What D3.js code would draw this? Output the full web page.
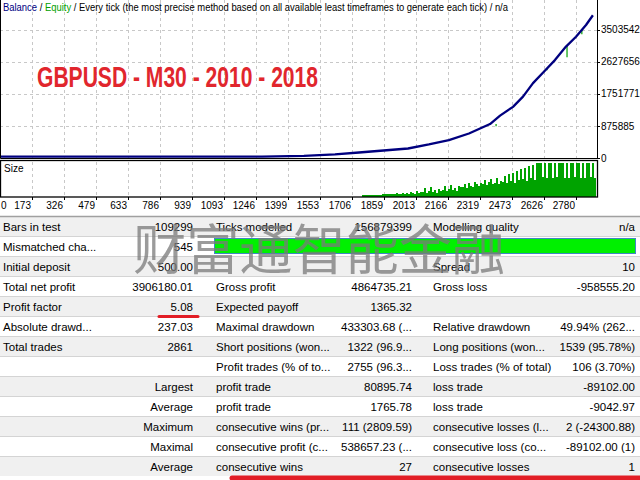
<!DOCTYPE html>
<html>
<head>
<meta charset="utf-8">
<script src="https://cdn.jsdelivr.net/npm/d3@7"></script>
<style>
  body { margin: 0; background: #fff; }
  svg { display: block; }
</style>
</head>
<body>
<div class="report"></div>
<script>
// chart data
const xTicks = [0, 173, 326, 479, 633, 786, 939, 1093, 1246, 1399, 1553, 1706, 1859, 2013, 2166, 2319, 2473, 2626, 2780];
const yTicks = [0, 875885, 1751771, 2627656, 3503542];

const balanceTrade = [0, 600, 1265, 1275, 1476, 1625, 1740, 1975, 2075, 2171, 2267, 2368, 2416, 2478, 2526, 2574, 2626, 2679, 2732, 2780, 2828, 2861];
const balanceValue = [500, 4000, 9000, 24000, 60000, 100000, 150000, 260000, 370000, 490000, 670000, 930000, 1160000, 1400000, 1680000, 2050000, 2360000, 2680000, 3050000, 3320000, 3640000, 3906680];

// equity dips (trade, balance at that trade, lowest equity)
const equityTrade = [2397, 2641, 2737, 2808];
const equityHigh = [930000, 2440000, 3070000, 3520000];
const equityLow = [870000, 2400000, 2760000, 3390000];

// lot sizes, one sample every sizeStep trades from sizeStart
const sizeStart = 1754, sizeStep = 9.58;
const sizeLots = [
  1.5, 1.5, 1.5, 1.5, 1.5, 1.5, 1.5, 1.5, 1.5, 1.5,
  3, 3, 3, 3, 3, 3, 3, 4.5, 3, 3, 4.5, 3,
  4.5, 3, 6, 4.5, 3, 7.5, 4.5, 6,
  6, 12, 4.5, 7.5, 13.5, 6, 9, 4.5, 10.5, 7.5,
  9, 15, 7.5, 10.5, 16.5, 9, 12, 7.5, 15, 13.5,
  13.5, 18, 12, 19.5, 15, 13.5, 21, 18, 15, 19.5,
  18, 24, 16.5, 21, 25.5, 18, 19.5, 27, 18, 22.5,
  21, 30, 19.5, 33, 22.5, 34.5, 19.5, 37.5, 24, 40.5,
  25.5, 42, 22.5, 45, 27, 46.5, 24, 50,
  50, 50, 28.5, 50, 27, 50, 50, 27, 50, 28.5, 50, 50, 50, 27, 50,
  27, 50, 50, 28.5, 50, 50, 27, 50, 27, 50, 50, 28.5, 50, 27
];
const sizeMax = 50;

// report table, one array per column
const col1Label = ['Bars in test', 'Mismatched cha...', 'Initial deposit', 'Total net profit', 'Profit factor', 'Absolute drawd...', 'Total trades', '', '', '', '', '', ''];
const col1Value = ['109299', '545', '500.00', '3906180.01', '5.08', '237.03', '2861', '', 'Largest', 'Average', 'Maximum', 'Maximal', 'Average'];
const col2Label = ['Ticks modelled', '', '', 'Gross profit', 'Expected payoff', 'Maximal drawdown', 'Short positions (won...', 'Profit trades (% of to...', 'profit trade', 'profit trade', 'consecutive wins (pr...', 'consecutive profit (c...', 'consecutive wins'];
const col2Value = ['156879399', '', '', '4864735.21', '1365.32', '433303.68 (...', '1322 (96.9...', '2755 (96.3...', '80895.74', '1765.78', '111 (2809.59)', '538657.23 (...', '27'];
const col3Label = ['Modelling quality', '', 'Spread', 'Gross loss', '', 'Relative drawdown', 'Long positions (won...', 'Loss trades (% of total)', 'loss trade', 'loss trade', 'consecutive losses (l...', 'consecutive loss (co...', 'consecutive losses'];
const col3Value = ['n/a', '', '10', '-958555.20', '', '49.94% (262...', '1539 (95.78%)', '106 (3.70%)', '-89102.00', '-9042.97', '2 (-24300.88)', '-89102.00 (1)', '1'];

const width = 640, height = 480;
const svg = d3.select('.report').append('svg')
    .attr('width', width).attr('height', height)
    .style('font-family', 'Liberation Sans, Arial, sans-serif');

const plotRight = 597;
const x = d3.scaleLinear().domain([173, 2780]).range([32, 576]);
const y = d3.scaleLinear().domain([0, 875885]).range([158, 126]);
const ySize = d3.scaleLinear().domain([0, sizeMax]).range([196.5, 163]);

svg.append('rect').attr('width', width).attr('height', height).attr('fill', '#fff');

// grid
const grid = svg.append('g')
    .attr('stroke', '#c8c8c8').attr('stroke-dasharray', '3,3').attr('stroke-width', 1);
grid.selectAll('.vg1').data(xTicks.filter(d => d > 0)).join('line')
    .attr('x1', d => Math.round(x(d)) + 0.5).attr('x2', d => Math.round(x(d)) + 0.5)
    .attr('y1', 0).attr('y2', 158);
grid.selectAll('.vg2').data(xTicks.filter(d => d > 0)).join('line')
    .attr('x1', d => Math.round(x(d)) + 0.5).attr('x2', d => Math.round(x(d)) + 0.5)
    .attr('y1', 162).attr('y2', 196);
grid.selectAll('.hg').data(yTicks.filter(d => d > 0)).join('line')
    .attr('x1', 0).attr('x2', plotRight)
    .attr('y1', d => Math.round(y(d)) + 0.5).attr('y2', d => Math.round(y(d)) + 0.5);

// clip the curves to the main panel
svg.append('clipPath').attr('id', 'mainClip')
    .append('rect').attr('x', 0).attr('y', 0).attr('width', plotRight).attr('height', 158);

const curves = svg.append('g').attr('clip-path', 'url(#mainClip)');
curves.selectAll('.eq').data(equityTrade).join('line')
    .attr('x1', d => x(d)).attr('x2', d => x(d))
    .attr('y1', (d, i) => y(equityHigh[i])).attr('y2', (d, i) => y(equityLow[i]))
    .attr('stroke', '#00a000').attr('stroke-width', 1.2);

const balanceLine = d3.line()
    .x((d, i) => x(balanceTrade[i]))
    .y(d => Math.min(y(d), 156.6));
curves.append('path')
    .datum(balanceValue)
    .attr('d', balanceLine)
    .attr('fill', 'none')
    .attr('stroke', '#00007f')
    .attr('stroke-width', 2.3)
    .attr('stroke-linejoin', 'round');

// main panel frame
svg.append('path')
    .attr('d', 'M0.5,-1 V158.5 H' + (plotRight + 0.5) + ' V-1')
    .attr('fill', 'none').attr('stroke', '#000');

// right axis
const yAxis = svg.append('g');
yAxis.selectAll('.tk').data(yTicks).join('line')
    .attr('x1', plotRight).attr('x2', plotRight + 3)
    .attr('y1', d => Math.round(y(d)) + 0.5).attr('y2', d => Math.round(y(d)) + 0.5)
    .attr('stroke', '#000');
yAxis.selectAll('text').data(yTicks).join('text')
    .attr('x', 601).attr('y', d => y(d) + 3.5)
    .style('font-size', '10px').attr('fill', '#000')
    .text(d => d);

// size panel
const sizeBars = svg.append('g');
sizeBars.selectAll('rect').data(sizeLots).join('rect')
    .attr('x', (d, i) => x(sizeStart + i * sizeStep))
    .attr('width', x(sizeStep) - x(0))
    .attr('y', d => ySize(d))
    .attr('height', d => ySize(0) - ySize(d))
    .attr('fill', '#00a300')
    .attr('shape-rendering', 'crispEdges');

svg.append('rect')
    .attr('x', 0.5).attr('y', 160.5).attr('width', plotRight).attr('height', 36.5)
    .attr('fill', 'none').attr('stroke', '#000').attr('stroke-width', 1.3);
svg.append('text').attr('x', 4).attr('y', 172)
    .style('font-size', '10px').style('font-family', 'Liberation Sans Narrow, Arial Narrow, sans-serif')
    .text('Size');

// bottom axis
const xAxis = svg.append('g');
xAxis.selectAll('line').data(xTicks.filter(d => d > 0)).join('line')
    .attr('x1', d => Math.round(x(d)) + 0.5).attr('x2', d => Math.round(x(d)) + 0.5)
    .attr('y1', 197).attr('y2', 200)
    .attr('stroke', '#000');
xAxis.selectAll('text').data(xTicks).join('text')
    .attr('x', d => d === 0 ? 1 : Math.round(x(d)) - 1)
    .attr('y', 209)
    .attr('text-anchor', d => d === 0 ? 'start' : 'end')
    .style('font-size', '10px')
    .text(d => d);

// legend line
const legend = svg.append('text').attr('x', 3).attr('y', 11)
    .attr('textLength', 505).attr('lengthAdjust', 'spacingAndGlyphs')
    .style('font-size', '10px')
    .style('font-family', 'Liberation Sans Narrow, Arial Narrow, sans-serif');
legend.append('tspan').attr('fill', '#00007f').text('Balance');
legend.append('tspan').attr('fill', '#000').text(' / ');
legend.append('tspan').attr('fill', '#00a000').text('Equity');
legend.append('tspan').attr('fill', '#000')
    .text(' / Every tick (the most precise method based on all available least timeframes to generate each tick) / n/a');

// title
svg.append('text')
    .attr('x', 37).attr('y', 87)
    .attr('textLength', 281).attr('lengthAdjust', 'spacingAndGlyphs')
    .style('font-family', 'Liberation Sans Narrow, Arial Narrow, sans-serif')
    .style('font-weight', 'bold')
    .style('font-size', '29px')
    .attr('fill', '#e1262d')
    .text('GBPUSD - M30 - 2010 - 2018');

// table
const tableTop = 216, rowH = 20;
const rows = d3.range(col1Label.length);
const table = svg.append('g').style('font-size', '11.5px').attr('fill', '#000');

table.selectAll('.bg').data(rows).join('rect')
    .attr('x', 0).attr('y', d => tableTop + d * rowH)
    .attr('width', width).attr('height', rowH)
    .attr('fill', d => d % 2 === 0 ? '#f0f0f0' : '#fff');
table.selectAll('.sep').data(rows.slice(1)).join('line')
    .attr('x1', 0).attr('x2', width)
    .attr('y1', d => tableTop + d * rowH + 0.5).attr('y2', d => tableTop + d * rowH + 0.5)
    .attr('stroke', '#d4d4d4');
table.append('line')
    .attr('x1', 0).attr('x2', width).attr('y1', tableTop + 0.5).attr('y2', tableTop + 0.5)
    .attr('stroke', '#a0a0a0').attr('stroke-width', 1.5);

// quality bar in row 2
table.append('rect')
    .attr('x', 214.5).attr('y', tableTop + rowH + 2.5)
    .attr('width', 421).attr('height', 15)
    .attr('fill', '#00f000').attr('stroke', '#3f86c4');

const cols = [
  { data: col1Label, x: 3, anchor: 'start' },
  { data: col1Value, x: 193, anchor: 'end' },
  { data: col2Label, x: 216, anchor: 'start' },
  { data: col2Value, x: 412, anchor: 'end' },
  { data: col3Label, x: 433, anchor: 'start' },
  { data: col3Value, x: 635, anchor: 'end' }
];
cols.forEach(c => {
  table.append('g').selectAll('text').data(c.data).join('text')
      .attr('x', c.x)
      .attr('y', (d, i) => tableTop + i * rowH + 14.5)
      .attr('text-anchor', c.anchor)
      .text(d => d);
});

// watermark
svg.append('text')
    .attr('x', 133).attr('y', 270)
    .attr('textLength', 372).attr('lengthAdjust', 'spacingAndGlyphs')
    .style('font-family', 'Noto Sans CJK SC, sans-serif')
    .style('font-size', '54px')
    .attr('fill', '#7a7a7a')
    .style('opacity', 0.75)
    .text('财富通智能金融');

// red marks
svg.append('line')
    .attr('x1', 159).attr('x2', 198).attr('y1', 316.5).attr('y2', 316.5)
    .attr('stroke', '#e21e26').attr('stroke-width', 3).attr('stroke-linecap', 'round');
svg.append('line')
    .attr('x1', 232).attr('x2', 645).attr('y1', 478).attr('y2', 478)
    .attr('stroke', '#e21e26').attr('stroke-width', 5).attr('stroke-linecap', 'round');
</script>
</body>
</html>
